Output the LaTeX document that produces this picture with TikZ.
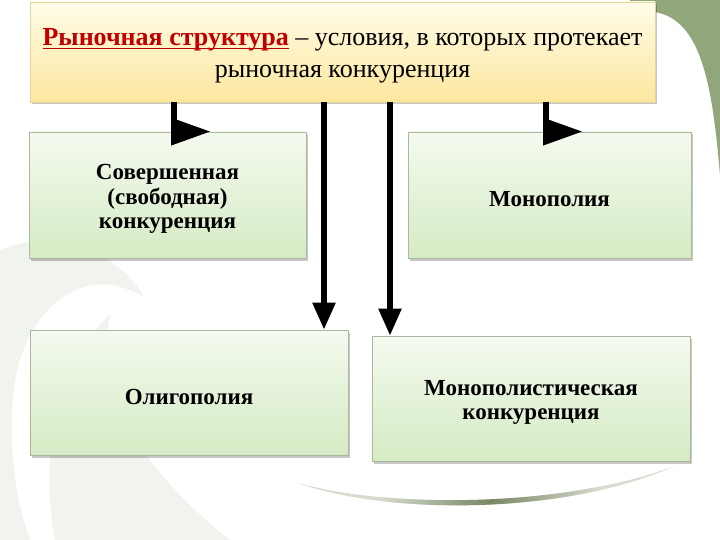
\documentclass[tikz,border=0pt]{standalone}
\usepackage{fontspec}
\setmainfont{Liberation Serif}
\usetikzlibrary{arrows.meta,shadows,calc}
\definecolor{topA}{RGB}{255,252,232}
\definecolor{topB}{RGB}{252,231,158}
\definecolor{topBorder}{RGB}{228,214,155}
\definecolor{grA}{RGB}{244,250,239}
\definecolor{grB}{RGB}{213,235,196}
\definecolor{grBorder}{RGB}{172,184,158}
\definecolor{olive}{RGB}{145,166,122}
\definecolor{swoosh}{RGB}{241,243,238}
\definecolor{curveDark}{RGB}{120,135,100}
\definecolor{curveLight}{RGB}{215,220,208}
\definecolor{redtext}{RGB}{192,0,0}
\newcommand{\redul}[1]{\textcolor{redtext}{\setbox0=\hbox{#1}\rlap{\rule[-3.5pt]{\wd0}{1.6pt}}\box0}}
\begin{document}
\begin{tikzpicture}[x=1pt,y=-1pt,
  boxshadow/.style={drop shadow={shadow xshift=1.5pt,shadow yshift=-2.5pt,opacity=0.22,fill=black}},
  topbox/.style={draw=topBorder, line width=0.8pt, top color=topA, bottom color=topB,
    minimum width=625pt, minimum height=100pt, inner sep=0pt, boxshadow},
  greenbox/.style={draw=grBorder, line width=0.8pt, top color=grA, bottom color=grB,
    minimum height=126pt, inner sep=0pt, boxshadow},
  boxtext/.style={font=\fontsize{23}{24.5}\selectfont\bfseries, align=center, yshift=-4pt},
  shaft/.style={line width=6pt},
  downarrow/.style={line width=5.5pt, -{Triangle[length=27pt,width=22pt]}}
]
\useasboundingbox (0,0) rectangle (720,540);
\fill[white] (0,0) rectangle (720,540);
% background swooshes
\fill[swoosh] (0,250) .. controls (60,225) and (120,255) .. (145,298)
  .. controls (90,262) and (30,300) .. (15,380)
  .. controls (8,430) and (12,490) .. (30,540) -- (0,540) -- cycle;
\fill[swoosh] (110,315) .. controls (60,360) and (38,450) .. (55,540) -- (230,540)
  .. controls (140,470) and (95,390) .. (110,315) -- cycle;
\fill[curveLight] (295,482) .. controls (380,514) and (560,517) .. (675,466)
  .. controls (560,509) and (380,508) .. cycle;
\begin{scope}
\clip (295,482) .. controls (380,514) and (560,517) .. (675,466)
  .. controls (560,509) and (380,508) .. cycle;
\shade[left color=curveLight, right color=curveLight, middle color=curveDark] (380,460) rectangle (600,520);
\end{scope}
\fill[olive] (630,0) -- (720,0) -- (720,175) .. controls (712,80) and (700,20) .. (655,12) -- (630,12) -- cycle;
% boxes
\node[topbox] (top) at (342.5,52) {};
\node[font=\fontsize{26}{31.5}\selectfont, align=center] (toptext) at (342.5,56) {\redul{\textbf{Рыночная структура}} – условия, в которых протекает\\рыночная конкуренция};
\node[greenbox, minimum width=277pt, label={[boxtext]center:Совершенная\\(свободная)\\конкуренция}] (b1) at (167.5,195) {};
\node[greenbox, minimum width=283pt, label={[boxtext]center:Монополия}] (b2) at (549.5,195) {};
\node[greenbox, minimum width=318pt, minimum height=125pt, label={[boxtext]center:Олигополия}] (b3) at (189,392.5) {};
\node[greenbox, minimum width=318pt, minimum height=125pt, label={[boxtext]center:Монополистическая\\конкуренция}] (b4) at (531,398.5) {};
% connectors
\coordinate (l1) at (174,0);
\coordinate (l2) at (546,0);
\coordinate (m1) at (324,0);
\coordinate (m2) at (390,0);
\draw[shaft] (top.south -| l1) -- (l1 |- b1.north);
\fill ($(l1 |- b1.north)+(-3,-14)$) -- ++(39,14) -- ++(-39,14) -- cycle;
\draw[shaft] (top.south -| l2) -- (l2 |- b2.north);
\fill ($(l2 |- b2.north)+(-3,-14)$) -- ++(39,14) -- ++(-39,14) -- cycle;
\draw[downarrow] (top.south -| m1) -- (m1 |- b3.north);
\draw[downarrow] (top.south -| m2) -- (m2 |- b4.north);
\end{tikzpicture}
\end{document}
